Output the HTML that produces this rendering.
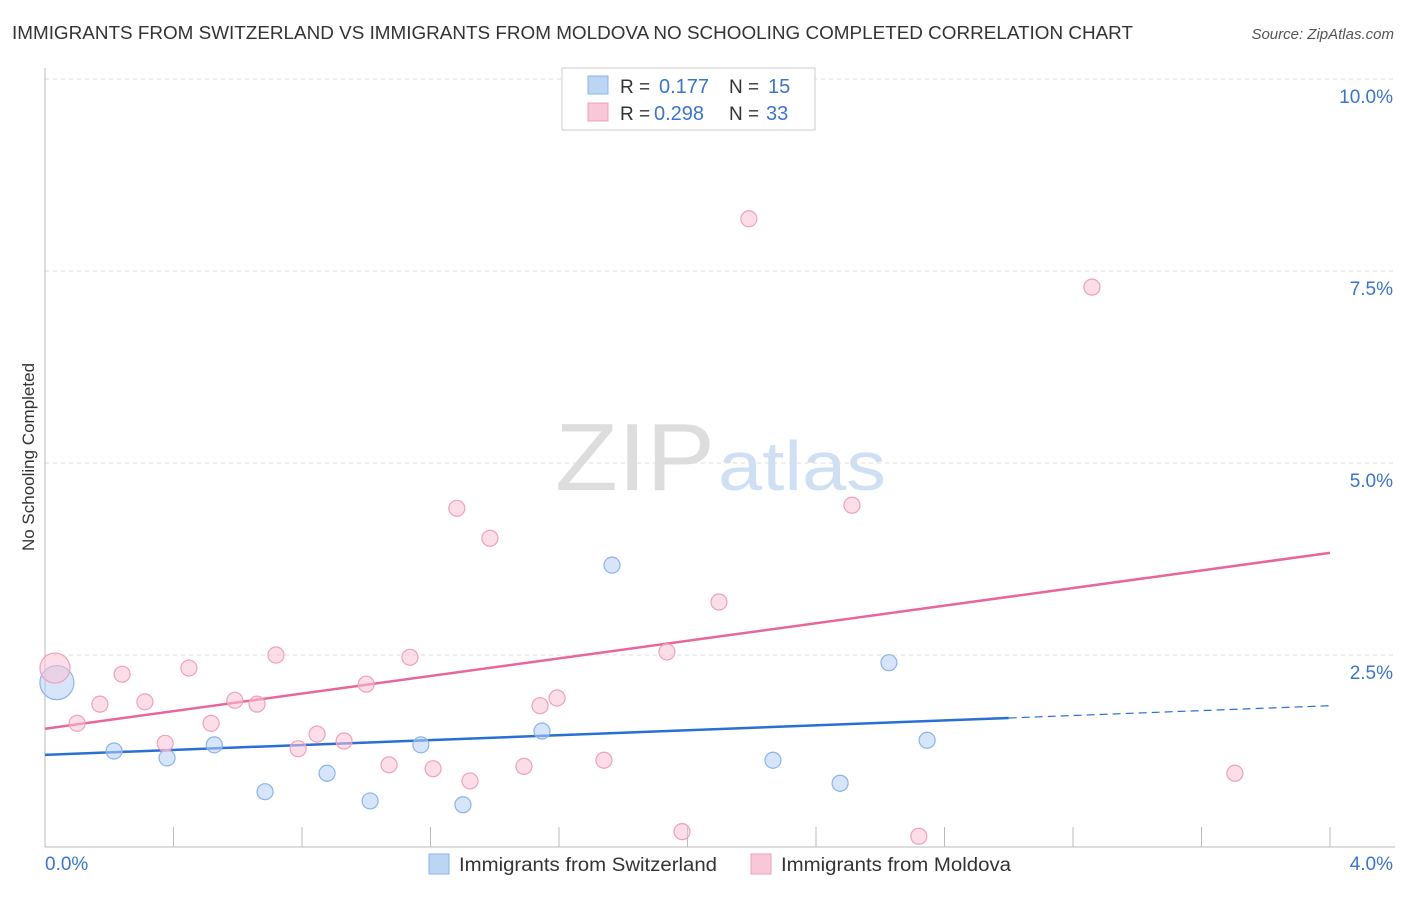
<!DOCTYPE html>
<html><head><meta charset="utf-8"><style>
body{margin:0;background:#fff;font-family:"Liberation Sans",sans-serif;}
svg text{font-family:"Liberation Sans",sans-serif;}
</style></head><body>
<svg id="chart" width="1406" height="892" xmlns="http://www.w3.org/2000/svg">
<text x="12" y="39" font-size="18" fill="#333" textLength="1121" lengthAdjust="spacingAndGlyphs">IMMIGRANTS FROM SWITZERLAND VS IMMIGRANTS FROM MOLDOVA NO SCHOOLING COMPLETED CORRELATION CHART</text>
<text x="1394" y="39" font-size="15" fill="#555" text-anchor="end" font-style="italic">Source: ZipAtlas.com</text>
<text transform="translate(34,457) rotate(-90)" font-size="17" fill="#333" text-anchor="middle">No Schooling Completed</text>
<g>
<text x="555" y="490" font-size="96" fill="#ddd" font-family="Liberation Serif" textLength="160" lengthAdjust="spacingAndGlyphs">ZIP</text>
<text x="718" y="490" font-size="70" fill="#cfe0f5" textLength="168" lengthAdjust="spacingAndGlyphs">atlas</text>
</g>
<g id="grid"></g><g id="axes"></g><g id="lines"></g><g id="pts"></g>
<g>
<rect x="562" y="68" width="253" height="62" fill="#fff" stroke="#ccc"/>
<rect x="588" y="76" width="20" height="18" fill="#bcd5f5" stroke="#8ab4e8"/>
<text x="620" y="93" font-size="19" fill="#333">R = </text><text x="659" y="93" font-size="20" fill="#3a74d0">0.177</text>
<text x="729" y="93" font-size="19" fill="#333">N = </text><text x="768" y="93" font-size="20" fill="#3a74d0">15</text>
<rect x="588" y="103" width="20" height="18" fill="#f9c8d8" stroke="#f0a0b8"/>
<text x="620" y="120" font-size="19" fill="#333">R = </text><text x="654" y="120" font-size="20" fill="#3a74d0">0.298</text>
<text x="729" y="120" font-size="19" fill="#333">N = </text><text x="766" y="120" font-size="20" fill="#3a74d0">33</text>
</g>
<g>
<rect x="429" y="854" width="20" height="20" fill="#bcd5f5" stroke="#8ab4e8"/>
<text x="459" y="871" font-size="19" fill="#333" textLength="258" lengthAdjust="spacingAndGlyphs">Immigrants from Switzerland</text>
<rect x="751" y="854" width="20" height="20" fill="#f9c8d8" stroke="#f0a0b8"/>
<text x="781" y="871" font-size="19" fill="#333" textLength="230" lengthAdjust="spacingAndGlyphs">Immigrants from Moldova</text>
</g>
</svg>
<script>
const xTicks=[0,0.4,0.8,1.2,1.6,2.0,2.4,2.8,3.2,3.6,4.0];
const yTicks=[2.5,5.0,7.5,10.0];
const yTickLabels=["2.5%","5.0%","7.5%","10.0%"];
const swissX=[0.037,0.215,0.38,0.527,0.685,0.878,1.012,1.17,1.301,1.547,1.765,2.266,2.475,2.627,2.746];
const swissY=[2.14,1.25,1.16,1.33,0.72,0.96,0.60,1.33,0.55,1.51,3.67,1.13,0.83,2.40,1.39];
const swissR=[17,8,8,8,8,8,8,8,8,8,8,8,8,8,8];
const molX=[0.031,0.10,0.171,0.24,0.311,0.374,0.448,0.517,0.591,0.66,0.719,0.788,0.847,0.931,1.0,1.071,1.136,1.208,1.282,1.323,1.385,1.491,1.541,1.594,1.74,1.936,1.983,2.098,2.191,2.512,2.72,3.259,3.704];
const molY=[2.33,1.61,1.86,2.25,1.89,1.35,2.33,1.61,1.91,1.86,2.50,1.28,1.47,1.38,2.12,1.07,2.47,1.02,4.41,0.86,4.02,1.05,1.84,1.94,1.13,2.54,0.20,3.19,8.18,4.45,0.14,7.29,0.96];
const swissTrend=[1.20,1.84]; const swissSolidEnd=3.0;
const molTrend=[1.54,3.83];
const NS="http://www.w3.org/2000/svg";
const X=v=>45+v/4*1285, Y=v=>847-v*76.8;
function mk(t,a,p){const e=document.createElementNS(NS,t);for(const k in a)e.setAttribute(k,a[k]);document.getElementById(p).appendChild(e);return e;}
const g0=mk('line',{x1:45,y1:Y(10),x2:1395,y2:Y(10),stroke:'#ddd','stroke-dasharray':'4,4'},'grid');

yTicks.forEach((v,i)=>{
 const l=mk('line',{x1:45,y1:Y(v),x2:1395,y2:Y(v),stroke:'#ddd','stroke-dasharray':'4,4'},'grid');
 
 const t=mk('text',{x:1393,y:Y(v)+24,'font-size':19,fill:'#3a74d0','text-anchor':'end'},'axes');
 t.textContent=yTickLabels[i];
 
});
const ax=mk('line',{x1:45,y1:68,x2:45,y2:847,stroke:'#bbb'},'axes');

const bx=mk('line',{x1:45,y1:847,x2:1395,y2:847,stroke:'#bbb'},'axes');

xTicks.forEach(v=>{const l=mk('line',{x1:X(v),y1:827,x2:X(v),y2:847,stroke:'#bbb'},'axes');
 });
const xl=mk('text',{x:45,y:870,'font-size':19,fill:'#3a74d0'},'axes');xl.textContent='0.0%';

const xr=mk('text',{x:1393,y:870,'font-size':19,fill:'#3a74d0','text-anchor':'end'},'axes');xr.textContent='4.0%';

swissX.forEach((v,i)=>{const c=mk('circle',{cx:X(v),cy:Y(swissY[i]),r:swissR[i],fill:'rgba(180,208,245,0.55)',stroke:'#8ab4e8','stroke-width':1.2},'pts');
 });
molX.forEach((v,i)=>{const c=mk('circle',{cx:X(v),cy:Y(molY[i]),r:i==0?15:8,fill:'rgba(249,195,214,0.55)',stroke:'#f0a0b8','stroke-width':1.2},'pts');
 });
const sy=v=>swissTrend[0]+(swissTrend[1]-swissTrend[0])*v/4;
const l1=mk('line',{x1:X(0),y1:Y(sy(0)),x2:X(swissSolidEnd),y2:Y(sy(swissSolidEnd)),stroke:'#2a6fd6','stroke-width':2.5},'lines');

const l2=mk('line',{x1:X(swissSolidEnd),y1:Y(sy(swissSolidEnd)),x2:X(4),y2:Y(sy(4)),stroke:'#2a6fd6','stroke-width':1.2,'stroke-dasharray':'8,5'},'lines');

const l3=mk('line',{x1:X(0),y1:Y(molTrend[0]),x2:X(4),y2:Y(molTrend[1]),stroke:'#e8679a','stroke-width':2.5},'lines');

</script>
</body></html>
